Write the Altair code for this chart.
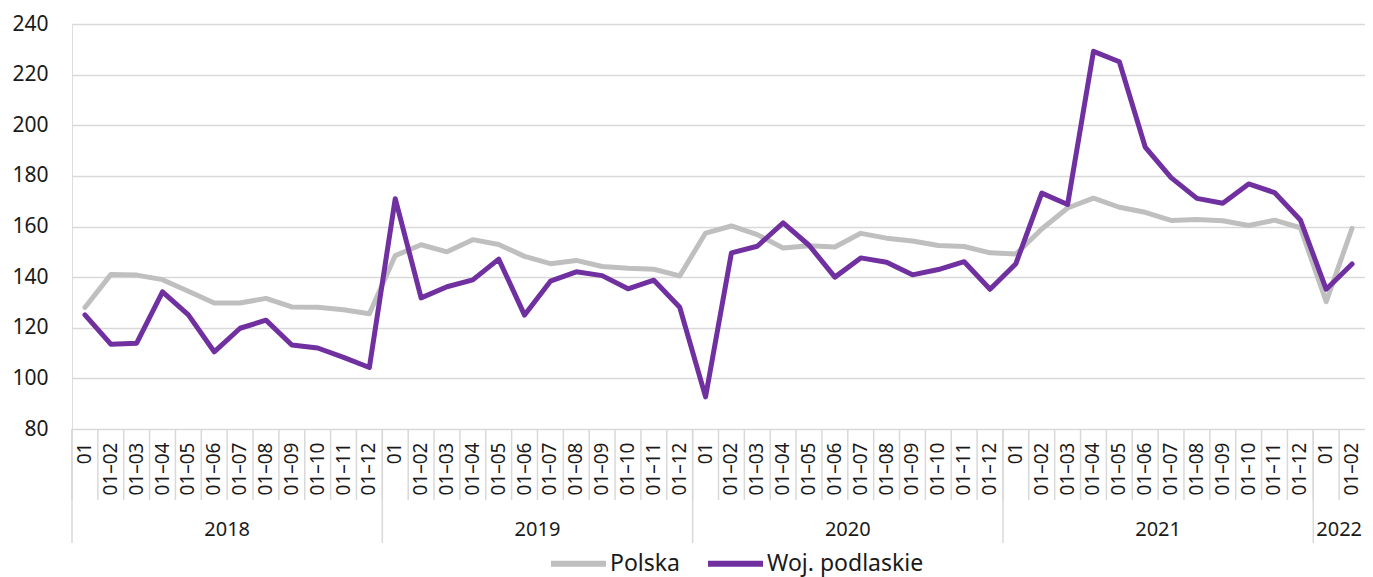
import altair as alt
import pandas as pd

# ---- data ----
years = ["2018"] * 12 + ["2019"] * 12 + ["2020"] * 12 + ["2021"] * 12 + ["2022"] * 2
months_year = ["01", "01–02", "01–03", "01–04", "01–05", "01–06",
               "01–07", "01–08", "01–09", "01–10", "01–11", "01–12"]
months = months_year * 4 + ["01", "01–02"]

polska = [128.0, 141.0, 140.8, 139.0, 134.4, 129.8, 129.8, 131.6, 128.2, 128.1, 127.1, 125.5,
          148.5, 152.8, 150.0, 154.8, 152.9, 148.2, 145.3, 146.6, 144.2, 143.5, 143.1, 140.5,
          157.4, 160.2, 156.8, 151.5, 152.4, 151.9, 157.3, 155.4, 154.3, 152.5, 152.1, 149.6,
          149.1, 159.0, 167.3, 171.2, 167.6, 165.6, 162.4, 162.8, 162.3, 160.4, 162.5, 159.5,
          130.3, 159.3]
podlaskie = [125.1, 113.5, 113.9, 134.2, 125.1, 110.5, 119.8, 123.0, 113.2, 112.0, 108.3, 104.3,
             171.0, 131.8, 136.2, 138.9, 147.1, 125.0, 138.4, 142.1, 140.6, 135.4, 138.8, 128.1,
             92.7, 149.6, 152.2, 161.4, 152.6, 140.0, 147.6, 145.9, 140.9, 143.0, 146.1, 135.2,
             145.3, 173.2, 168.7, 229.2, 225.1, 191.4, 179.3, 171.1, 169.2, 176.8, 173.4, 162.6,
             135.2, 145.2]
series_names = ["Polska", "Woj. podlaskie"]
series_colors = ["#bfbfbf", "#7030a0"]
y_ticks = [80, 100, 120, 140, 160, 180, 200, 220, 240]

# ---- tables ----
keys = [f"{y}|{m}" for y, m in zip(years, months)]
year_counts = {y: years.count(y) for y in dict.fromkeys(years)}
pos_in_year = []
seen = {}
for y in years:
    pos_in_year.append(seen.get(y, 0))
    seen[y] = seen.get(y, 0) + 1

cat_df = pd.DataFrame({
    "key": keys,
    "year": years,
    "idx": list(range(len(keys))),
    "year_start": [p == 0 for p in pos_in_year],
    "year_mid": [p == year_counts[y] // 2 for p, y in zip(pos_in_year, years)],
})

line_df = pd.DataFrame({
    "key": keys * 2,
    "idx": list(range(len(keys))) * 2,
    "series": [series_names[0]] * len(keys) + [series_names[1]] * len(keys),
    "value": polska + podlaskie,
})

FONT = "Noto Sans"
TXT = "#1a1a1a"
GRID = "#d9d9d9"
W, H = 1293, 405

x_scale = alt.Scale(type="band", paddingInner=0, paddingOuter=0)
x_axis = alt.Axis(
    labelExpr="split(datum.value, '|')[1]",
    labelAngle=270,
    labelFontSize=19,
    labelFont=FONT,
    labelColor=TXT,
    labelPadding=13,
    labelLimit=200,
    ticks=False,
    domain=False,
    grid=False,
    title=None,
)


def xenc(band_pos):
    return alt.X("key:N", sort=keys, scale=x_scale, axis=x_axis, bandPosition=band_pos, title=None)


lines = alt.Chart(line_df).mark_line(strokeWidth=5, strokeJoin="round", strokeCap="round").encode(
    x=xenc(0.5),
    y=alt.Y(
        "value:Q",
        scale=alt.Scale(domain=[80, 240], nice=False, zero=False),
        axis=alt.Axis(
            values=y_ticks,
            grid=True,
            gridColor=GRID,
            gridWidth=1.5,
            domain=False,
            ticks=False,
            labelFontSize=21,
            labelFont=FONT,
            labelColor=TXT,
            labelPadding=24,
            title=None,
        ),
        title=None,
    ),
    color=alt.Color(
        "series:N",
        scale=alt.Scale(domain=series_names, range=series_colors),
        legend=alt.Legend(
            orient="none",
            legendX=476,
            legendY=509,
            direction="horizontal",
            title=None,
            symbolType="stroke",
            symbolSize=3025,
            symbolStrokeWidth=6,
            labelFontSize=23,
            labelFont=FONT,
            labelColor=TXT,
            labelOffset=1,
            columnPadding=16,
            labelLimit=400,
            padding=0,
        ),
    ),
    order=alt.Order("idx:Q"),
)

month_sep = alt.Chart(cat_df).mark_rule(color=GRID, strokeWidth=1.5).encode(
    x=xenc(0),
    y=alt.value(H),
    y2=alt.value(H + 71),
)

year_sep = alt.Chart(cat_df).transform_filter("datum.year_start").mark_rule(
    color=GRID, strokeWidth=1.5
).encode(
    x=xenc(0),
    y=alt.value(H),
    y2=alt.value(H + 114),
)

year_text = alt.Chart(cat_df).transform_filter("datum.year_mid").mark_text(
    fontSize=20, font=FONT, color=TXT, baseline="middle", align="center"
).encode(
    x=xenc(0),
    y=alt.value(H + 101),
    text="year:N",
)

chart = alt.layer(month_sep, year_sep, lines, year_text).properties(
    width=W,
    height=H,
    autosize=alt.AutoSizeParams(type="none"),
    padding={"left": 64, "top": 16, "right": 0, "bottom": 148},
).configure_view(stroke=None).configure(background="white")

chart.save("out.html", embed_options={"renderer": "svg", "actions": False})
